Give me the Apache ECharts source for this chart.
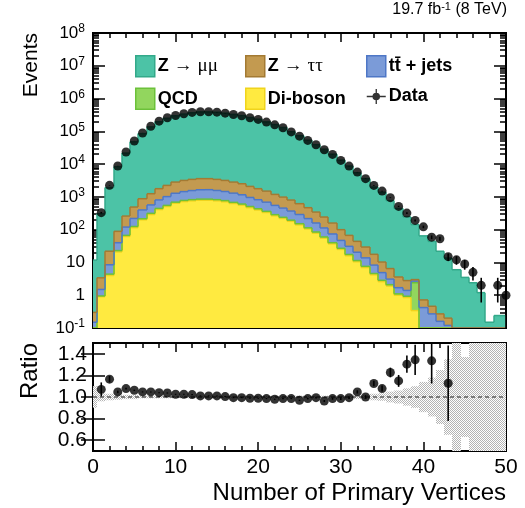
<!DOCTYPE html>
<html>
<head>
<meta charset="utf-8">
<script src="https://cdn.jsdelivr.net/npm/echarts@6/dist/echarts.min.js"></script>
<style>
  html, body { margin: 0; padding: 0; background: #fff; }
  #chart { width: 525px; height: 508px; }
</style>
</head>
<body>
<div id="chart"></div>
<script>
// Number of reconstructed primary vertices (bin centres)
const nVtx = [0,1,2,3,4,5,6,7,8,9,10,11,12,13,14,15,16,17,18,19,20,21,22,23,24,25,26,27,28,29,30,31,32,33,34,35,36,37,38,39,40,41,42,43,44,45,46,47,48,49,50];

// Simulated yields per process (events per bin)
const zmumu = [11.5,305,1908,8271,21440,47310,84420,135350,194220,247760,294770,332420,364380,387400,387400,377580,354420,326170,298280,261110,232020,192400,160210,130000,96700,73080,53130,38760,28360,19940,13100,8683,5396,3570,1972,1380,764,442,242,140,64,43.5,21.7,13.4,6,3.5,2.4,1.2,0.15,0.24,0.24];
const ztautau = [0.15,1.9,13.5,49,140,270,480,680,970,1220,1540,1730,1860,1950,1940,1850,1720,1530,1360,1130,960,810,640,531,430,331,250,184,130,85,53,36,23.5,15.7,9.4,5.4,3.4,1.9,1.4,0.3,0.3,0.19,0.11,0.08,0,0,0,0,0,0,0];
const ttbar = [0.15,0.55,4.1,17,53,95,185,255,365,470,600,670,735,795,805,745,690,620,555,450,385,328,263,217,175,138,104,75,53,34,20,13.5,9.1,6.2,3.7,2.05,1.0,0.6,0.47,0.3,0.42,0.27,0.16,0.12,0,0,0,0,0,0,0];
const qcd = [0,0.05,0.4,2,5,10,15,25,35,40,50,60,65,65,65,65,60,50,45,40,35,27,22,18,15,12,9,7,5,3,2,1.5,0.9,0.6,0.4,0.25,0.2,0.1,0.08,2.06,0,0,0,0,0,0,0,0,0,0,0];
const diboson = [0,0.9,4,21,62,115,200,290,410,510,640,720,760,790,790,760,710,630,560,470,400,335,265,220,180,140,105,78,55,37,25,16,10.5,7,4.2,2.6,1.9,1.0,0.85,0.34,0,0,0,0,0,0,0,0,0,0,0];

// Observed events and their uncertainties
const observed = [null,330,2250,8750,23400,50800,89300,143000,204000,260000,305000,344000,377000,395000,395000,385000,359000,327000,299000,260000,231000,191000,158000,129000,96000,71400,52800,38900,27500,19800,13000,8700,5700,3600,2240,1500,946,513,320,192,122,59,53,15,12,9,5,2,null,2,1];
const observedErr = [null,18,47,94,153,225,299,378,452,510,552,587,614,628,628,620,599,572,547,510,481,437,397,359,310,267,230,197,166,141,114,93,75,60,47,39,31,23,18,14,11,7.7,7.3,3.9,3.5,3,2.2,1.4,null,1.4,1];

// Data / simulation ratio and its uncertainty
const ratio = [null,1.07,1.165,1.047,1.078,1.062,1.047,1.047,1.04,1.037,1.025,1.025,1.022,1.01,1.01,1.01,1.004,0.994,0.994,0.988,0.988,0.985,0.979,0.985,0.985,0.969,0.985,0.994,0.963,0.985,0.985,0.994,1.047,1.0,1.125,1.078,1.227,1.149,1.304,1.344,null,1.335,null,1.127,null,null,null,null,null,null,null];
const ratioErr = [null,0.065,0.03,0.012,0.008,0.006,0.005,0.005,0.005,0.005,0.005,0.005,0.005,0.005,0.005,0.005,0.005,0.005,0.005,0.005,0.005,0.005,0.005,0.005,0.005,0.006,0.007,0.008,0.009,0.01,0.012,0.013,0.015,0.017,0.025,0.028,0.045,0.055,0.08,0.14,null,0.21,null,0.35,null,null,null,null,null,null,null];

// Relative statistical uncertainty of the simulation
const mcRelUnc = [0.1,0.04,0.03,0.025,0.02,0.02,0.012,0.012,0.012,0.012,0.012,0.012,0.012,0.012,0.012,0.012,0.012,0.012,0.012,0.012,0.012,0.012,0.012,0.012,0.012,0.012,0.012,0.012,0.012,0.012,0.012,0.015,0.018,0.02,0.03,0.035,0.05,0.06,0.08,0.1,0.14,0.18,0.25,0.35,0.6,0.37,0.6,0.6,0.6,0.6,0.6];

// Axis tick values
const decadeTicks = [0.1,1,10,100,1e3,1e4,1e5,1e6,1e7,1e8];
const ratioTicks = [0.6,0.8,1.0,1.2,1.4];

const X_MIN = 0, X_MAX = 50, Y_MIN = 0.1, Y_MAX = 1e8;
const minorTicks = [];
for (let k = -1; k < 8; k++) for (let m = 2; m <= 9; m++) minorTicks.push(m * Math.pow(10, k));

const FONT = '"Liberation Sans", Arial, Helvetica, sans-serif';
const clampY = v => Math.min(Y_MAX, Math.max(Y_MIN, v));

// Processes from the bottom of the stack to the top
const processes = [
  { name: 'Di-boson', values: diboson, fill: '#ffea40', line: '#f0d41c' },
  { name: 'QCD', values: qcd, fill: '#92d65e', line: '#6cc13a' },
  { name: 'tt̄ + jets', values: ttbar, fill: '#7b9bd8', line: '#4e77c6' },
  { name: 'Z → ττ', values: ztautau, fill: '#c39a50', line: '#a37a33' },
  { name: 'Z → μμ', values: zmumu, fill: '#4cc3a6', line: '#33a98a' }
];

const below = nVtx.map(() => 0);
const stackSeries = processes.map(p => {
  const items = nVtx.map((x, i) => {
    const lo = below[i];
    const hi = lo + p.values[i];
    return [x, lo, hi];
  });
  items.forEach((it, i) => { it.push(i > 0 ? items[i - 1][2] : -1); });
  nVtx.forEach((x, i) => { below[i] += p.values[i]; });
  return {
    name: p.name,
    type: 'custom',
    xAxisIndex: 0, yAxisIndex: 0,
    z: 2, clip: true,
    itemStyle: { color: p.fill, borderColor: p.line },
    data: items,
    renderItem: (params, api) => {
      const x = api.value(0);
      const lo = clampY(api.value(1));
      const hi = clampY(api.value(2));
      const prev = api.value(3);
      const x0 = Math.max(X_MIN, x - 0.5), x1 = Math.min(X_MAX, x + 0.5);
      const tl = api.coord([x0, hi]);
      const br = api.coord([x1, lo]);
      const L = Math.round(tl[0]), R = Math.round(br[0]);
      const children = [];
      if (br[1] - tl[1] > 0.01) {
        children.push({ type: 'rect', z2: 0,
          shape: { x: L, y: tl[1], width: R - L, height: br[1] - tl[1] },
          style: { fill: p.fill } });
      }
      children.push({ type: 'line', z2: 10,
        shape: { x1: L, y1: tl[1], x2: R, y2: tl[1] },
        style: { stroke: p.line, lineWidth: 1.5 } });
      if (prev >= 0 && x0 === x - 0.5) {
        const py = api.coord([x0, clampY(prev)])[1];
        children.push({ type: 'line', z2: 10,
          shape: { x1: L, y1: py, x2: L, y2: tl[1] },
          style: { stroke: p.line, lineWidth: 1.5 } });
      }
      return { type: 'group', children };
    }
  };
});

// Stippled fill for the simulation uncertainty band
function stipple() {
  const c = document.createElement('canvas');
  c.width = 2; c.height = 2;
  const g = c.getContext('2d');
  g.fillStyle = '#ffffff'; g.fillRect(0, 0, 2, 2);
  g.fillStyle = '#b4b4b4';
  g.fillRect(0, 0, 1, 1); g.fillRect(1, 1, 1, 1);
  return { image: c, repeat: 'repeat' };
}
const bandFill = stipple();

const dataIcon = 'path://M6,10A4,4 0 1,1 14,10A4,4 0 1,1 6,10Z M0,9.3L6.2,9.3L6.2,10.7L0,10.7Z M13.8,9.3L20,9.3L20,10.7L13.8,10.7Z M9.3,2L10.7,2L10.7,6.2L9.3,6.2Z M9.3,13.8L10.7,13.8L10.7,18L9.3,18Z';

const legendRich = {
  b: { fontFamily: FONT, fontWeight: 'bold', fontSize: 18, color: '#000' },
  g: { fontFamily: '"Liberation Serif", "DejaVu Serif", serif', fontWeight: 'normal', fontSize: 19, color: '#000' }
};
const legendText = {
  'Z → μμ': '{b|Z }{g|→ μμ}',
  'Z → ττ': '{b|Z }{g|→ ττ}',
  'tt̄ + jets': '{b|tt̄ + jets}',
  'QCD': '{b|QCD}',
  'Di-boson': '{b|Di-boson}',
  'Data': '{b|Data}'
};
function legendItem(name) {
  if (name === 'Data') return { name, icon: dataIcon, itemStyle: { color: '#000', borderWidth: 0 } };
  const p = processes.find(q => q.name === name);
  return { name, icon: 'rect', itemStyle: { color: p.fill, borderColor: p.line, borderWidth: 1.5 } };
}
function legendColumn(left, names) {
  return {
    orient: 'vertical', left, top: 55, padding: 0,
    itemWidth: 19, itemHeight: 21, itemGap: 10,
    selectedMode: false,
    data: names.map(legendItem),
    formatter: n => legendText[n],
    textStyle: { rich: legendRich, padding: [0, 0, 0, -2] }
  };
}

const supRich = {
  b: { fontFamily: FONT, fontSize: 17, color: '#000', lineHeight: 20 },
  s: { fontFamily: FONT, fontSize: 12, color: '#000', lineHeight: 9, verticalAlign: 'top' }
};
function decadeLabel(v) {
  const e = Math.round(Math.log10(v));
  if (e === 0) return '{b|1}';
  if (e === 1) return '{b|10}';
  return '{b|10}{s|' + e + '}';
}

const tickX = (major, minor) => ({
  axisTick: { show: true, inside: true, length: major, lineStyle: { color: '#000', width: 1.5 } },
  minorTick: { show: true, splitNumber: 5, length: minor, lineStyle: { color: '#000', width: 1.5 } }
});

const option = {
  animation: false,
  backgroundColor: '#fff',
  title: {
    text: '{a|19.7 fb}{s|-1}{a| (8 TeV)}',
    right: 18, top: 1, padding: 0,
    textStyle: { fontWeight: 'normal', rich: {
      a: { fontFamily: FONT, fontWeight: 'normal', fontSize: 16, color: '#000', lineHeight: 18 },
      s: { fontFamily: FONT, fontWeight: 'normal', fontSize: 11, color: '#000', lineHeight: 8, verticalAlign: 'top' }
    } }
  },
  legend: [
    legendColumn(135, ['Z → μμ', 'QCD']),
    legendColumn(245, ['Z → ττ', 'Di-boson']),
    legendColumn(366, ['tt̄ + jets', 'Data'])
  ],
  grid: [
    { left: 93, top: 33, width: 413, height: 295, show: true, borderColor: '#000', borderWidth: 2, backgroundColor: 'transparent' },
    { left: 93, top: 343, width: 413, height: 108, show: true, borderColor: '#000', borderWidth: 2, backgroundColor: 'transparent' }
  ],
  xAxis: [
    Object.assign({ gridIndex: 0, type: 'value', min: X_MIN, max: X_MAX, interval: 10, position: 'bottom',
      axisLine: { show: false }, axisLabel: { show: false }, splitLine: { show: false } }, tickX(9, 5)),
    Object.assign({ gridIndex: 0, type: 'value', min: X_MIN, max: X_MAX, interval: 10, position: 'top',
      axisLine: { show: false }, axisLabel: { show: false }, splitLine: { show: false } }, tickX(9, 5)),
    Object.assign({ gridIndex: 1, type: 'value', min: X_MIN, max: X_MAX, interval: 10, position: 'bottom',
      axisLine: { show: false }, splitLine: { show: false },
      axisLabel: { show: true, margin: 6, fontFamily: FONT, fontSize: 21, color: '#000',
        showMinLabel: true, showMaxLabel: true, hideOverlap: false } }, tickX(9, 5)),
    Object.assign({ gridIndex: 1, type: 'value', min: X_MIN, max: X_MAX, interval: 10, position: 'top',
      axisLine: { show: false }, axisLabel: { show: false }, splitLine: { show: false } }, tickX(9, 5))
  ],
  yAxis: [
    { gridIndex: 0, type: 'log', min: Y_MIN, max: Y_MAX, position: 'left',
      axisLine: { show: false }, splitLine: { show: false },
      axisTick: { show: true, inside: true, length: 12, customValues: decadeTicks, lineStyle: { color: '#000', width: 1.5 } },
      axisLabel: { show: true, margin: 8, customValues: decadeTicks, formatter: decadeLabel, rich: supRich, hideOverlap: false } },
    { gridIndex: 0, type: 'log', min: Y_MIN, max: Y_MAX, position: 'left',
      axisLine: { show: false }, splitLine: { show: false }, axisLabel: { show: false },
      axisTick: { show: true, inside: true, length: 6, customValues: minorTicks, lineStyle: { color: '#000', width: 1.5 } } },
    { gridIndex: 0, type: 'log', min: Y_MIN, max: Y_MAX, position: 'right',
      axisLine: { show: false }, splitLine: { show: false }, axisLabel: { show: false },
      axisTick: { show: true, inside: true, length: 12, customValues: decadeTicks, lineStyle: { color: '#000', width: 1.5 } } },
    { gridIndex: 0, type: 'log', min: Y_MIN, max: Y_MAX, position: 'right',
      axisLine: { show: false }, splitLine: { show: false }, axisLabel: { show: false },
      axisTick: { show: true, inside: true, length: 6, customValues: minorTicks, lineStyle: { color: '#000', width: 1.5 } } },
    { gridIndex: 1, type: 'value', min: 0.5, max: 1.5, position: 'left',
      axisLine: { show: false }, splitLine: { show: false },
      axisTick: { show: true, inside: true, length: 12, customValues: ratioTicks, lineStyle: { color: '#000', width: 1.5 } },
      axisLabel: { show: true, margin: 6, customValues: ratioTicks, fontFamily: FONT, fontSize: 21, lineHeight: 16, color: '#000',
        hideOverlap: false, interval: 0, formatter: v => v.toFixed(1) } },
    { gridIndex: 1, type: 'value', min: 0.5, max: 1.5, position: 'right',
      axisLine: { show: false }, splitLine: { show: false }, axisLabel: { show: false },
      axisTick: { show: true, inside: true, length: 12, customValues: ratioTicks, lineStyle: { color: '#000', width: 1.5 } } }
  ],
  graphic: [
    { type: 'text', x: 31, y: 33, rotation: Math.PI / 2,
      style: { text: 'Events', font: '21px ' + FONT, fill: '#000', textAlign: 'right', textVerticalAlign: 'middle' } },
    { type: 'text', x: 30, y: 371, rotation: Math.PI / 2,
      style: { text: 'Ratio', font: '24px ' + FONT, fill: '#000', textAlign: 'center', textVerticalAlign: 'middle' } },
    { type: 'text', x: 506, y: 493,
      style: { text: 'Number of Primary Vertices', font: '24px ' + FONT, fill: '#000', textAlign: 'right', textVerticalAlign: 'middle' } }
  ],
  series: [
    ...stackSeries,
    {
      name: 'Data-err', type: 'custom', xAxisIndex: 0, yAxisIndex: 0, z: 5, clip: true,
      data: nVtx.map((x, i) => [x, observed[i], observedErr[i]]).filter(d => d[1] != null),
      renderItem: (params, api) => {
        const x = api.value(0), v = api.value(1), e = api.value(2);
        const a = api.coord([x, clampY(v + e)]);
        const b = api.coord([x, clampY(v - e)]);
        return { type: 'line', shape: { x1: a[0], y1: a[1], x2: b[0], y2: b[1] }, style: { stroke: '#000', lineWidth: 1.6 } };
      }
    },
    {
      name: 'Data', type: 'scatter', xAxisIndex: 0, yAxisIndex: 0, z: 6,
      symbol: 'circle', symbolSize: 9, itemStyle: { color: '#000' },
      data: nVtx.map((x, i) => [x, observed[i]]).filter(d => d[1] != null)
    },
    {
      name: 'MC-unc', type: 'custom', xAxisIndex: 2, yAxisIndex: 4, z: 2, clip: true,
      data: nVtx.map((x, i) => [x, mcRelUnc[i]]),
      renderItem: (params, api) => {
        const x = api.value(0), u = api.value(1);
        const x0 = Math.max(X_MIN, x - 0.5), x1 = Math.min(X_MAX, x + 0.5);
        const tl = api.coord([x0, Math.min(1.5, 1 + u)]);
        const br = api.coord([x1, Math.max(0.5, 1 - u)]);
        const L = Math.round(tl[0]), R = Math.round(br[0]);
        return { type: 'rect', shape: { x: L, y: tl[1], width: R - L, height: br[1] - tl[1] },
          style: { fill: bandFill } };
      },
      markLine: { silent: true, symbol: 'none', label: { show: false },
        lineStyle: { color: '#7a7a7a', width: 2, type: [4, 3] },
        data: [{ yAxis: 1 }] }
    },
    {
      name: 'Ratio-err', type: 'custom', xAxisIndex: 2, yAxisIndex: 4, z: 5, clip: true,
      data: nVtx.map((x, i) => [x, ratio[i], ratioErr[i]]).filter(d => d[1] != null),
      renderItem: (params, api) => {
        const x = api.value(0), r = api.value(1), e = api.value(2);
        const a = api.coord([x, Math.min(1.5, r + e)]);
        const b = api.coord([x, Math.max(0.5, r - e)]);
        return { type: 'line', shape: { x1: a[0], y1: a[1], x2: b[0], y2: b[1] }, style: { stroke: '#000', lineWidth: 1.6 } };
      }
    },
    {
      name: 'Ratio', type: 'scatter', xAxisIndex: 2, yAxisIndex: 4, z: 6,
      symbol: 'circle', symbolSize: 9, itemStyle: { color: '#000' },
      data: nVtx.map((x, i) => [x, ratio[i]]).filter(d => d[1] != null)
    }
  ]
};

const chart = echarts.init(document.getElementById('chart'), null, { renderer: 'canvas' });
chart.setOption(option);
</script>
</body>
</html>
